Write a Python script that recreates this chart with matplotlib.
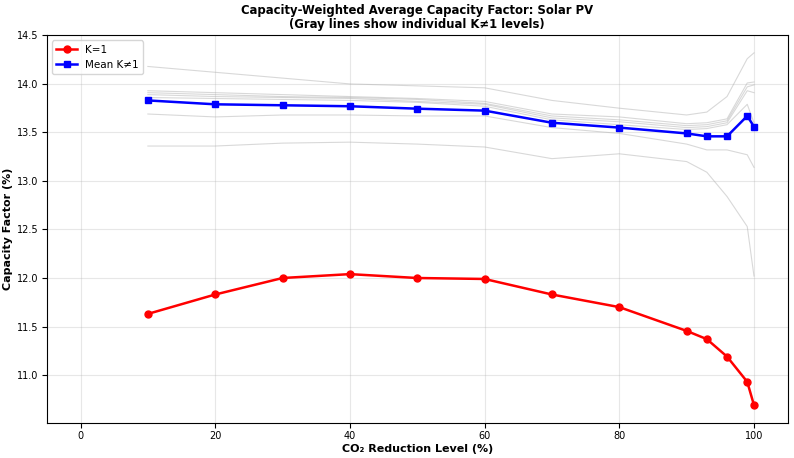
import numpy as np
import matplotlib
matplotlib.use("Agg")
import matplotlib.pyplot as plt

# CO2 reduction levels (%)
reduction = [10, 20, 30, 40, 50, 60, 70, 80, 90, 93, 96, 99, 100]

# capacity factor (%), K=1
cf_k1 = [11.63, 11.83, 12.00, 12.04, 12.00, 11.99, 11.83, 11.70, 11.455, 11.37, 11.19, 10.93, 10.69]

# mean over K != 1
cf_mean = [13.83, 13.79, 13.78, 13.77, 13.745, 13.725, 13.60, 13.55, 13.49, 13.46, 13.46, 13.67, 13.56]

# individual K != 1 levels
cf_other = [
    [14.18, 14.12, 14.06, 14.00, 13.98, 13.96, 13.83, 13.75, 13.68, 13.71, 13.87, 14.26, 14.32],
    [13.93, 13.91, 13.89, 13.87, 13.85, 13.82, 13.69, 13.66, 13.59, 13.60, 13.64, 14.01, 14.02],
    [13.91, 13.89, 13.87, 13.86, 13.84, 13.80, 13.67, 13.63, 13.57, 13.58, 13.62, 13.97, 13.99],
    [13.89, 13.87, 13.86, 13.85, 13.82, 13.79, 13.65, 13.61, 13.55, 13.56, 13.60, 13.93, 13.91],
    [13.86, 13.85, 13.84, 13.83, 13.81, 13.77, 13.63, 13.58, 13.53, 13.54, 13.58, 13.79, 13.60],
    [13.69, 13.66, 13.68, 13.68, 13.67, 13.67, 13.55, 13.49, 13.38, 13.32, 13.32, 13.27, 13.14],
    [13.36, 13.36, 13.39, 13.40, 13.38, 13.35, 13.23, 13.28, 13.20, 13.09, 12.84, 12.53, 12.02],
]


def main():
    fig, ax = plt.subplots(figsize=(7.94, 4.58), dpi=100)

    for series in cf_other:
        ax.plot(reduction, series, color="gray", alpha=0.3, linewidth=0.8, zorder=1)

    ax.plot(reduction, cf_k1, "o-", color="red", linewidth=1.8, markersize=5, label="K=1", zorder=3)
    ax.plot(reduction, cf_mean, "s-", color="blue", linewidth=1.8, markersize=5, label="Mean K≠1", zorder=3)

    ax.set_xlabel("CO₂ Reduction Level (%)", fontsize=8, fontweight="bold", labelpad=2)
    ax.set_ylabel("Capacity Factor (%)", fontsize=8, fontweight="bold", labelpad=3)
    ax.set_title("Capacity-Weighted Average Capacity Factor: Solar PV\n(Gray lines show individual K≠1 levels)",
                 fontsize=8.4, fontweight="bold", linespacing=1.15, pad=5)
    ax.set_xlim(-5, 105)
    ax.tick_params(labelsize=7, pad=2.5)
    ax.grid(True, alpha=0.3)
    ax.legend(loc="upper left", fontsize=7.5)

    fig.subplots_adjust(left=0.059, right=0.992, top=0.923, bottom=0.077)
    fig.savefig("out.png", dpi=100)


if __name__ == '__main__':
    main()
